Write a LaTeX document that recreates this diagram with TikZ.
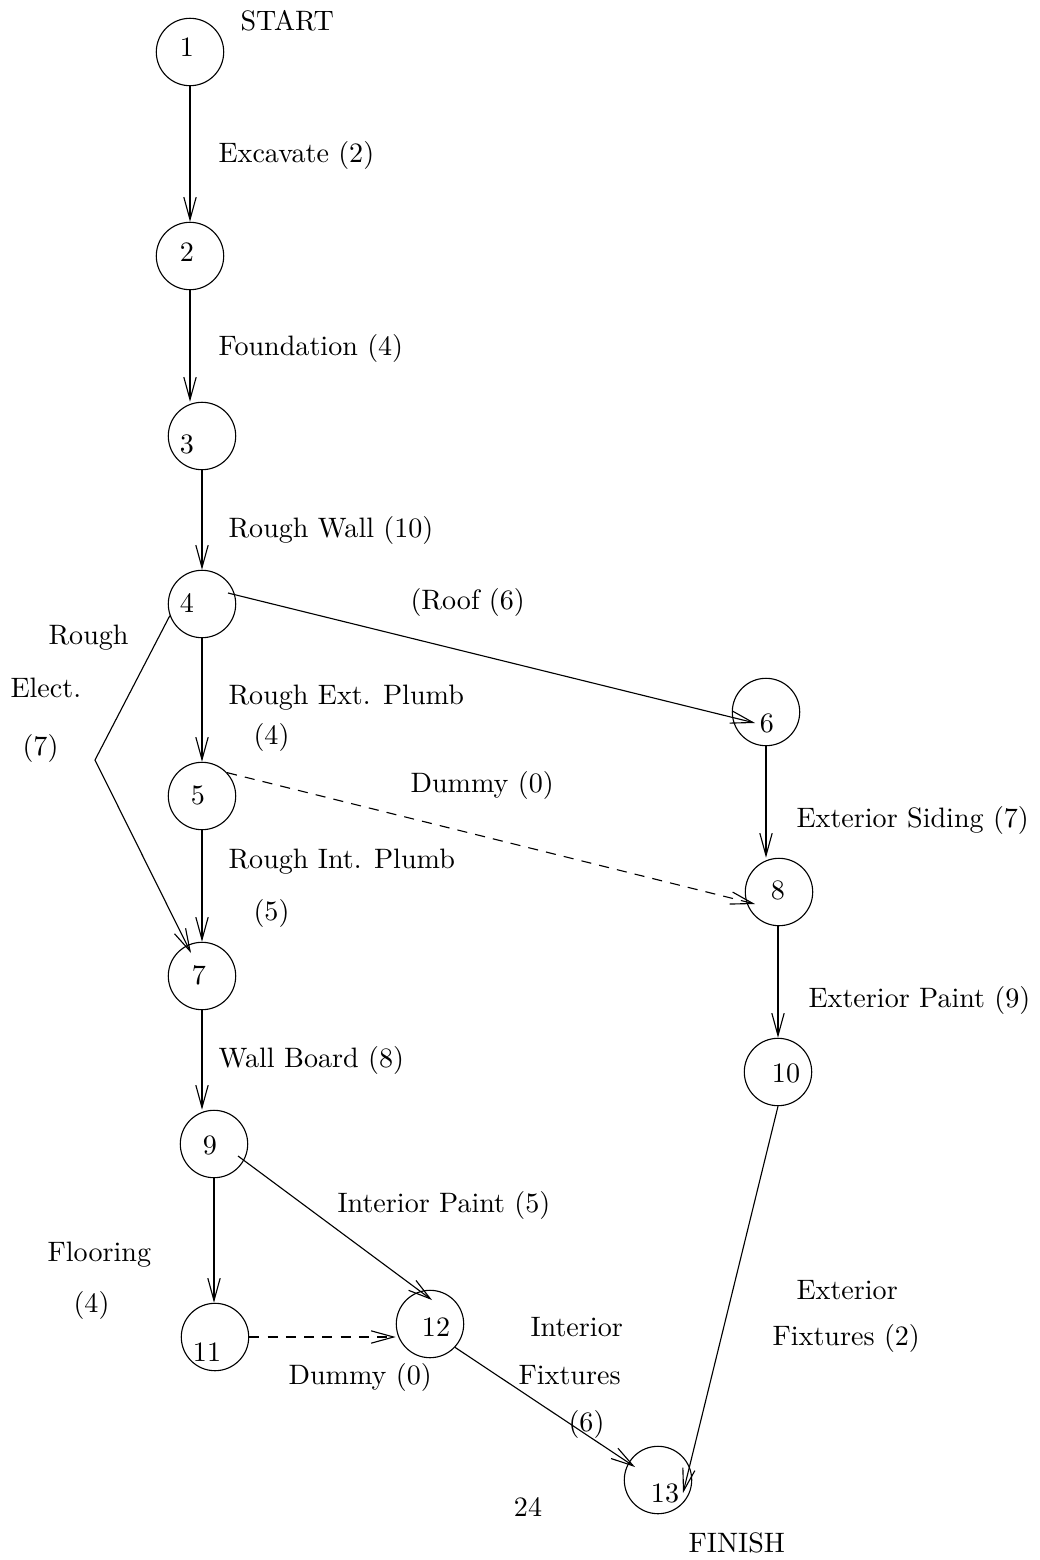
\documentclass[tikz,border=0pt]{standalone}
\usetikzlibrary{arrows.meta,calc}
\tikzset{
  event/.style={draw, circle, minimum size=24pt, inner sep=0pt},
  act/.style={-{Straight Barb[length=8pt,width=4.4pt]}},
  dummy/.style={act, dash pattern=on 3.6pt off 2.9pt},
  lbl/.style={anchor=west, inner sep=0pt},
}
\begin{document}
\begin{tikzpicture}[x=0.356pt, y=-0.356pt]
  \useasboundingbox (0,0) rectangle (1040,1560);
  % events
  \draw
    (190,52) node[event] (1){}
    (190,256) node[event] (2){}
    (202,436) node[event] (3){}
    (202,604) node[event] (4){}
    (202,796) node[event] (5){}
    (766,712) node[event] (6){}
    (202,976) node[event] (7){}
    (779,892) node[event] (8){}
    (214,1144) node[event] (9){}
    (778,1072) node[event] (10){}
    (215,1337) node[event] (11){}
    (430,1324) node[event] (12){}
    (658,1480) node[event] (13){};
  % event numbers, set a bit off the centres
  \path
    (187,47) node (t1){1}
    (187,252) node (t2){2}
    (187,444) node (t3){3}
    (187,603) node (t4){4}
    (198,795) node (t5){5}
    (767,723) node (t6){6}
    (199,975) node (t7){7}
    (778,890) node (t8){8}
    (210,1145) node (t9){9}
    (786,1073) node (t10){10}
    (207,1352) node (t11){11}
    (436,1327) node (t12){12}
    (665,1493) node (t13){13};
  \coordinate (kink) at (95,760);
  % activities
  \begin{scope}[act]
    \draw (1.south) to (2.north);
    \draw (2.south) to (2.south |- 3.north);
    \draw (3.south) to (4.north);
    \draw (4.south) to (5.north);
    \draw ($(4)+(26,-11)$) to ($(6)+(-11,11)$);
    \draw (4.200) -- (kink) -- ($(7)+(-11,-23)$);
    \draw (5.south) to (7.north);
    \draw (6.south) to (6.south |- 8.north);
    \draw (10.north |- 8.south) to (10.north);
    \draw (7.south) to (7.south |- 9.north);
    \draw (9.south) to (9.south |- 11.north);
    \draw ($(9)+(24,12)$) to ($(12)+(2,-24)$);
    \draw (12.-43) to ($(13)+(-23,-13)$);
    \draw (10.south) to ($(13)+(25,13)$);
  \end{scope}
  \begin{scope}[dummy]
    \draw (5.43) to ($(8)+(-24,12)$);
    \draw (11.east) to (11.east -| 12.west);
  \end{scope}
  % activity names and durations
  \node[lbl] (start) at (240,21) {START};
  \node[lbl] (excavate) at (218,155) {Excavate (2)};
  \node[lbl] (found) at (218,348) {Foundation (4)};
  \node[lbl] (wall) at (228,530) {Rough Wall (10)};
  \node[lbl] (roof) at (410,602) {(Roof (6)};
  \node[lbl] (elecA) at (48,638) {Rough};
  \node[lbl] (elecB) at (10,688) {Elect.};
  \node[lbl] (elecC) at (22,748) {(7)};
  \node[lbl] (extA) at (228,698) {Rough Ext. Plumb};
  \node[lbl] (extB) at (253,737) {(4)};
  \node[lbl] (dumA) at (410,785) {Dummy (0)};
  \node[lbl] (siding) at (796,820) {Exterior Siding (7)};
  \node[lbl] (intA) at (228,862) {Rough Int. Plumb};
  \node[lbl] (intB) at (253,913) {(5)};
  \node[lbl] (extpaint) at (808,1000) {Exterior Paint (9)};
  \node[lbl] (board) at (218,1060) {Wall Board (8)};
  \node[lbl] (intpaint) at (337,1205) {Interior Paint (5)};
  \node[lbl] (floorA) at (47,1255) {Flooring};
  \node[lbl] (floorB) at (73,1305) {(4)};
  \node[lbl] (exfixA) at (796,1290) {Exterior};
  \node[lbl] (exfixB) at (772,1338) {Fixtures (2)};
  \node[lbl] (infixA) at (530,1327) {Interior};
  \node[lbl] (infixB) at (518,1375) {Fixtures};
  \node[lbl] (infixC) at (568,1424) {(6)};
  \node[lbl] (dumB) at (288,1377) {Dummy (0)};
  \node (page) at (528,1507) {24};
  \node[lbl] (finish) at (688,1543) {FINISH};
\end{tikzpicture}
\end{document}
